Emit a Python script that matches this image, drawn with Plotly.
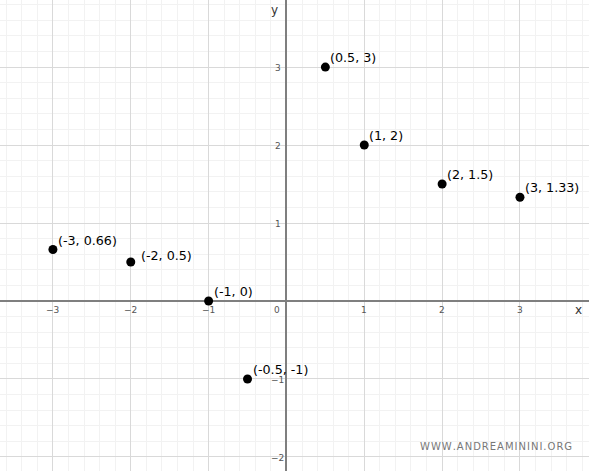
import plotly.graph_objects as go

# points
xs = [-3, -2, -1, -0.5, 0.5, 1, 2, 3]
ys = [0.66, 0.5, 0, -1, 3, 2, 1.5, 1.33]
labels = ["(-3, 0.66)", "(-2, 0.5)", "(-1, 0)", "(-0.5, -1)",
          "(0.5, 3)", "(1, 2)", "(2, 1.5)", "(3, 1.33)"]

x_ticks = [-3, -2, -1, 0, 1, 2, 3]
y_ticks = [-2, -1, 1, 2, 3]

fig = go.Figure(go.Scatter(
    x=xs, y=ys, mode="markers",
    marker=dict(color="black", size=9),
    cliponaxis=False
))

# point labels, a bit up and right of each point
for px, py, lab in zip(xs, ys, labels):
    dx, dy = (8, -3) if lab == "(-2, 0.5)" else (3, 0)
    fig.add_annotation(x=px, y=py, text=lab, showarrow=False,
                       xanchor="left", yanchor="bottom", xshift=dx, yshift=dy,
                       font=dict(family="DejaVu Sans", size=12.7, color="black"))

grid = dict(
    showgrid=True, gridcolor="#d9d9d9", gridwidth=1,
    dtick=1, tick0=0,
    minor=dict(showgrid=True, dtick=0.2, gridcolor="#f2f2f2", gridwidth=1),
    zeroline=True, zerolinecolor="#7f7f7f", zerolinewidth=1.5,
    showticklabels=False, ticks="", fixedrange=True
)
fig.update_xaxes(range=[-3.68, 3.887], **grid)
fig.update_yaxes(range=[-2.18, 3.86], **grid)

# tick labels next to the axes
for t in x_ticks:
    fig.add_annotation(x=t - (0.12 if t == 0 else 0), y=-0.12, text=str(t).replace("-", "\u2212"),
                       showarrow=False, font=dict(size=9, color="#555", family="DejaVu Sans"))
for t in y_ticks:
    fig.add_annotation(x=-0.11, y=t, text=str(t).replace("-", "\u2212"), yshift=-1,
                       showarrow=False, font=dict(size=9, color="#555", family="DejaVu Sans"))

fig.add_annotation(x=3.75, y=-0.12, text="x", showarrow=False,
                   font=dict(size=12, color="#333", family="DejaVu Sans"))
fig.add_annotation(x=-0.15, y=3.73, text="y", showarrow=False,
                   font=dict(size=12, color="#333", family="DejaVu Sans"))

fig.add_annotation(x=0.974, y=0.051, xref="paper", yref="paper",
                   xanchor="right", yanchor="middle",
                   text="W W W . A N D R E A M I N I N I . O R G".replace(" ", "\u200a"),
                   showarrow=False, font=dict(size=10, color="#777", family="DejaVu Sans"))

fig.update_layout(
    width=589, height=471,
    margin=dict(l=0, r=0, t=0, b=0, pad=0, autoexpand=False),
    plot_bgcolor="white", paper_bgcolor="white",
    showlegend=False
)

# drop the page's default body margin so the figure fills the window
fig.write_html("out.html", config={"displayModeBar": False},
               post_script="document.body.style.margin='0';document.body.style.overflow='hidden';")
